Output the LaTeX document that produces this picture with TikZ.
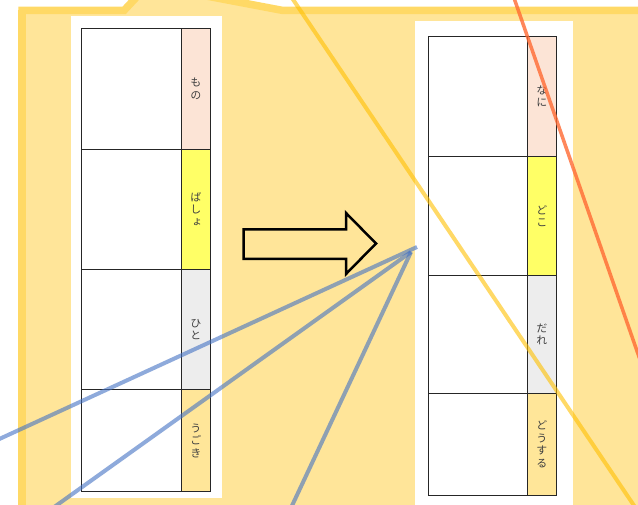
\documentclass[tikz,border=0pt]{standalone}
\usepackage{fontspec}
\newfontfamily\jpfont[RawFeature=+vert]{Noto Sans CJK JP}
\definecolor{bgfill}{HTML}{FFE599}
\definecolor{bgborder}{HTML}{FFD966}
\definecolor{linecol}{HTML}{262626}
\definecolor{txtcol}{HTML}{404040}
\definecolor{cpeach}{HTML}{FCE4D6}
\definecolor{cyellow}{HTML}{FFFF66}
\definecolor{cgray}{HTML}{EDEDED}
\definecolor{cgold}{HTML}{FFE699}
\definecolor{blueln}{HTML}{4472C4}
\definecolor{orangeln}{HTML}{FF6A33}
\definecolor{goldln}{HTML}{FFC000}
\tikzset{
  cellbox/.style={draw=linecol, line width=0.9pt, fill=white, inner sep=0pt, anchor=north west},
  labbox/.style={cellbox, minimum width=29pt, text=txtcol, align=center,
    font=\jpfont\fontsize{11}{12.5}\selectfont},
  bigbox/.style={cellbox},
  blueline/.style={draw=blueln, opacity=0.6, line width=4pt},
  orangeline/.style={draw=orangeln, opacity=0.8, line width=3.5pt},
  goldline/.style={draw=goldln, opacity=0.6, line width=4pt},
  blockarrow/.style={draw=black, line width=2.5pt, line join=miter}
}
\begin{document}
\begin{tikzpicture}[x=1pt,y=-1pt]
\useasboundingbox (0,0) rectangle (638,505);
\clip (0,0) rectangle (638,505);
% background shape
\path[fill=bgfill, draw=bgborder, line width=7.5pt, line join=miter]
  (22,530) -- (22,10.5) -- (124,10.5) -- (145,-12) -- (180,-9) -- (283,10.5) -- (670,10.5) -- (670,530) -- cycle;
\fill[bgborder] (18,10.5) rectangle (26,530);
% white panels
\fill[white] (71,16) rectangle (222,498);
\fill[white] (415,21) rectangle (573,520);
% left table
\node[bigbox, minimum width=100pt, minimum height=121pt] (L1) at (81,28) {};
\node[bigbox, minimum width=100pt, minimum height=120pt] (L2) at (81,149) {};
\node[bigbox, minimum width=100pt, minimum height=120pt] (L3) at (81,269) {};
\node[bigbox, minimum width=100pt, minimum height=102pt] (L4) at (81,389) {};
\node[labbox, fill=cpeach, minimum height=121pt] (LA) at (181,28) {も\\の};
\node[labbox, fill=cyellow, minimum height=120pt] (LB) at (181,149) {ば\\し\\ょ};
\node[labbox, fill=cgray, minimum height=120pt] (LC) at (181,269) {ひ\\と};
\node[labbox, fill=cgold, minimum height=102pt] (LD) at (181,389) {う\\ご\\き};
% right table
\node[bigbox, minimum width=99pt, minimum height=120pt] (R1) at (428,36) {};
\node[bigbox, minimum width=99pt, minimum height=119pt] (R2) at (428,156) {};
\node[bigbox, minimum width=99pt, minimum height=118pt] (R3) at (428,275) {};
\node[bigbox, minimum width=99pt, minimum height=102pt] (R4) at (428,393) {};
\node[labbox, fill=cpeach, minimum height=120pt] (RA) at (527,36) {な\\に};
\node[labbox, fill=cyellow, minimum height=119pt] (RB) at (527,156) {ど\\こ};
\node[labbox, fill=cgray, minimum height=118pt] (RC) at (527,275) {だ\\れ};
\node[labbox, fill=cgold, minimum height=102pt] (RD) at (527,393) {ど\\う\\す\\る};
% block arrow
\draw[blockarrow] (243.5,229.5) -- (346,229.5) -- (346,213) -- (376,243.5) -- (346,274) -- (346,259) -- (243.5,259) -- cycle;
% stray lines
\coordinate (apexA) at (417,247);
\coordinate (apexB) at (411,252);
\coordinate (b1) at (-5,441);
\coordinate (b2) at (50,510);
\coordinate (b3) at (290,510);
\draw[blueline] (apexA) -- (b1);
\draw[blueline] (apexB) -- (b2);
\draw[blueline] (apexB) -- (b3);
\coordinate (o1) at (514,-2);
\coordinate (o2) at (645,374);
\draw[orangeline] (o1) -- (o2);
\coordinate (g1) at (292,-2);
\coordinate (g2) at (637,510);
\draw[goldline] (g1) -- (g2);
\end{tikzpicture}
\end{document}
